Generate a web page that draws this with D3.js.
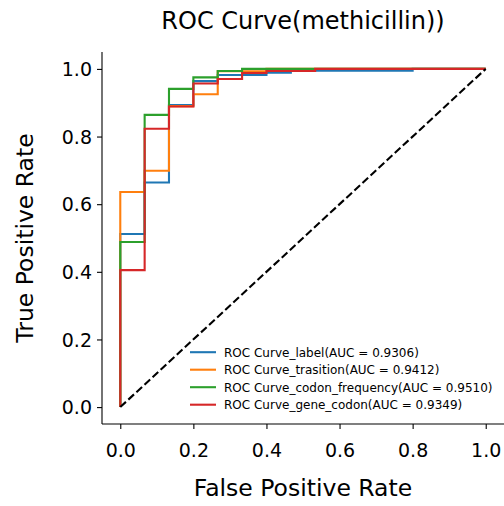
<!DOCTYPE html>
<html>
<head>
<meta charset="utf-8">
<script src="https://cdn.jsdelivr.net/npm/d3@7"></script>
<style>
  html, body { margin: 0; padding: 0; background: #fff; }
  svg { display: block; font-family: "DejaVu Sans", sans-serif; }
</style>
</head>
<body>
<script>
// ---- data ----
const seriesNames = ["ROC Curve_label(AUC = 0.9306)", "ROC Curve_trasition(AUC = 0.9412)",
  "ROC Curve_codon_frequency(AUC = 0.9510)", "ROC Curve_gene_codon(AUC = 0.9349)"];
const seriesColors = ["#1f77b4", "#ff7f0e", "#2ca02c", "#d62728"];

const labelFpr = [0, 0, 0.0667, 0.1333, 0.2, 0.2667, 0.4, 0.4667, 0.8, 1];
const labelTpr = [0, 0.512, 0.664, 0.893, 0.964, 0.982, 0.989, 0.995, 1, 1];

const trasitionFpr = [0, 0, 0.0667, 0.1333, 0.2, 0.2667, 0.4, 1];
const trasitionTpr = [0, 0.636, 0.699, 0.890, 0.925, 0.993, 1, 1];

const codonFreqFpr = [0, 0, 0.0667, 0.1333, 0.2, 0.2667, 0.3333, 1];
const codonFreqTpr = [0, 0.488, 0.864, 0.941, 0.975, 0.994, 1, 1];

const geneCodonFpr = [0, 0, 0.0667, 0.1333, 0.2, 0.2667, 0.3333, 0.4, 0.5333, 1];
const geneCodonTpr = [0, 0.405, 0.823, 0.889, 0.957, 0.970, 0.988, 0.994, 1, 1];

const diagonal = [0, 1];
const xTicks = [0, 0.2, 0.4, 0.6, 0.8, 1.0];
const yTicks = [0, 0.2, 0.4, 0.6, 0.8, 1.0];

const titleText = "ROC Curve(methicillin))";
const xLabel = "False Positive Rate";
const yLabel = "True Positive Rate";

// ---- layout ----
const W = 504, H = 506;
const mLeft = 102, mRight = 504, mTop = 52, mBottom = 424;

const svg = d3.select("body").append("svg").attr("width", W).attr("height", H);

const x = d3.scaleLinear().domain([-0.05, 1.05]).range([mLeft, mRight]);
const y = d3.scaleLinear().domain([-0.05, 1.05]).range([mBottom, mTop]);

const series = [
  { fpr: labelFpr, tpr: labelTpr },
  { fpr: trasitionFpr, tpr: trasitionTpr },
  { fpr: codonFreqFpr, tpr: codonFreqTpr },
  { fpr: geneCodonFpr, tpr: geneCodonTpr }
];

const line = d3.line().x(d => x(d[0])).y(d => y(d[1])).curve(d3.curveStepAfter);

series.forEach((s, i) => {
  const pts = s.fpr.map((f, j) => [f, s.tpr[j]]);
  svg.append("path")
    .attr("d", line(pts))
    .attr("fill", "none")
    .attr("stroke", seriesColors[i])
    .attr("stroke-width", 2.1)
    .attr("stroke-linejoin", "miter")
    .attr("stroke-linecap", "butt");
});

// diagonal
svg.append("path")
  .attr("d", d3.line().x(d => x(d)).y(d => y(d))(diagonal))
  .attr("fill", "none")
  .attr("stroke", "#000")
  .attr("stroke-width", 2.1)
  .attr("stroke-dasharray", "7.7,3.3");

// axes
const xAxis = d3.axisBottom(x).tickValues(xTicks).tickFormat(d3.format(".1f")).tickSize(5).tickPadding(4);
const yAxis = d3.axisLeft(y).tickValues(yTicks).tickFormat(d3.format(".1f")).tickSize(5).tickPadding(5);

const gx = svg.append("g").attr("transform", `translate(0,${mBottom})`).call(xAxis);
const gy = svg.append("g").attr("transform", `translate(${mLeft},0)`).call(yAxis);

[gx, gy].forEach(g => {
  g.select(".domain").remove();
  g.selectAll(".tick line").attr("stroke", "#000").attr("stroke-width", 1.1);
  g.selectAll(".tick text").attr("fill", "#000").attr("font-size", 19)
    .attr("font-family", "DejaVu Sans, sans-serif");
});
gx.selectAll(".tick text").attr("dy", null).attr("y", 33);
gy.selectAll(".tick text").attr("dy", "0.35em");

// spines (left + bottom)
svg.append("line").attr("x1", mLeft).attr("x2", mLeft).attr("y1", mTop).attr("y2", mBottom)
  .attr("stroke", "#000").attr("stroke-width", 1.1);
svg.append("line").attr("x1", mLeft).attr("x2", mRight).attr("y1", mBottom).attr("y2", mBottom)
  .attr("stroke", "#000").attr("stroke-width", 1.1);

// labels
svg.append("text").attr("x", (mLeft + mRight) / 2).attr("y", 29)
  .attr("text-anchor", "middle").attr("font-size", 24).attr("fill", "#000").text(titleText);
svg.append("text").attr("x", (mLeft + mRight) / 2).attr("y", 496)
  .attr("text-anchor", "middle").attr("font-size", 23.5).attr("fill", "#000").text(xLabel);
svg.append("text").attr("transform", `translate(33,${(mTop + mBottom) / 2}) rotate(-90)`)
  .attr("text-anchor", "middle").attr("font-size", 23.5).attr("fill", "#000").text(yLabel);

// legend
const legendBaselines = [356.5, 374, 391.5, 409];
seriesNames.forEach((name, i) => {
  const by = legendBaselines[i];
  svg.append("line").attr("x1", 190).attr("x2", 216).attr("y1", by - 4.3).attr("y2", by - 4.3)
    .attr("stroke", seriesColors[i]).attr("stroke-width", 2.1);
  svg.append("text").attr("x", 224).attr("y", by).attr("font-size", 12).attr("fill", "#000").text(name);
});
</script>
</body>
</html>
